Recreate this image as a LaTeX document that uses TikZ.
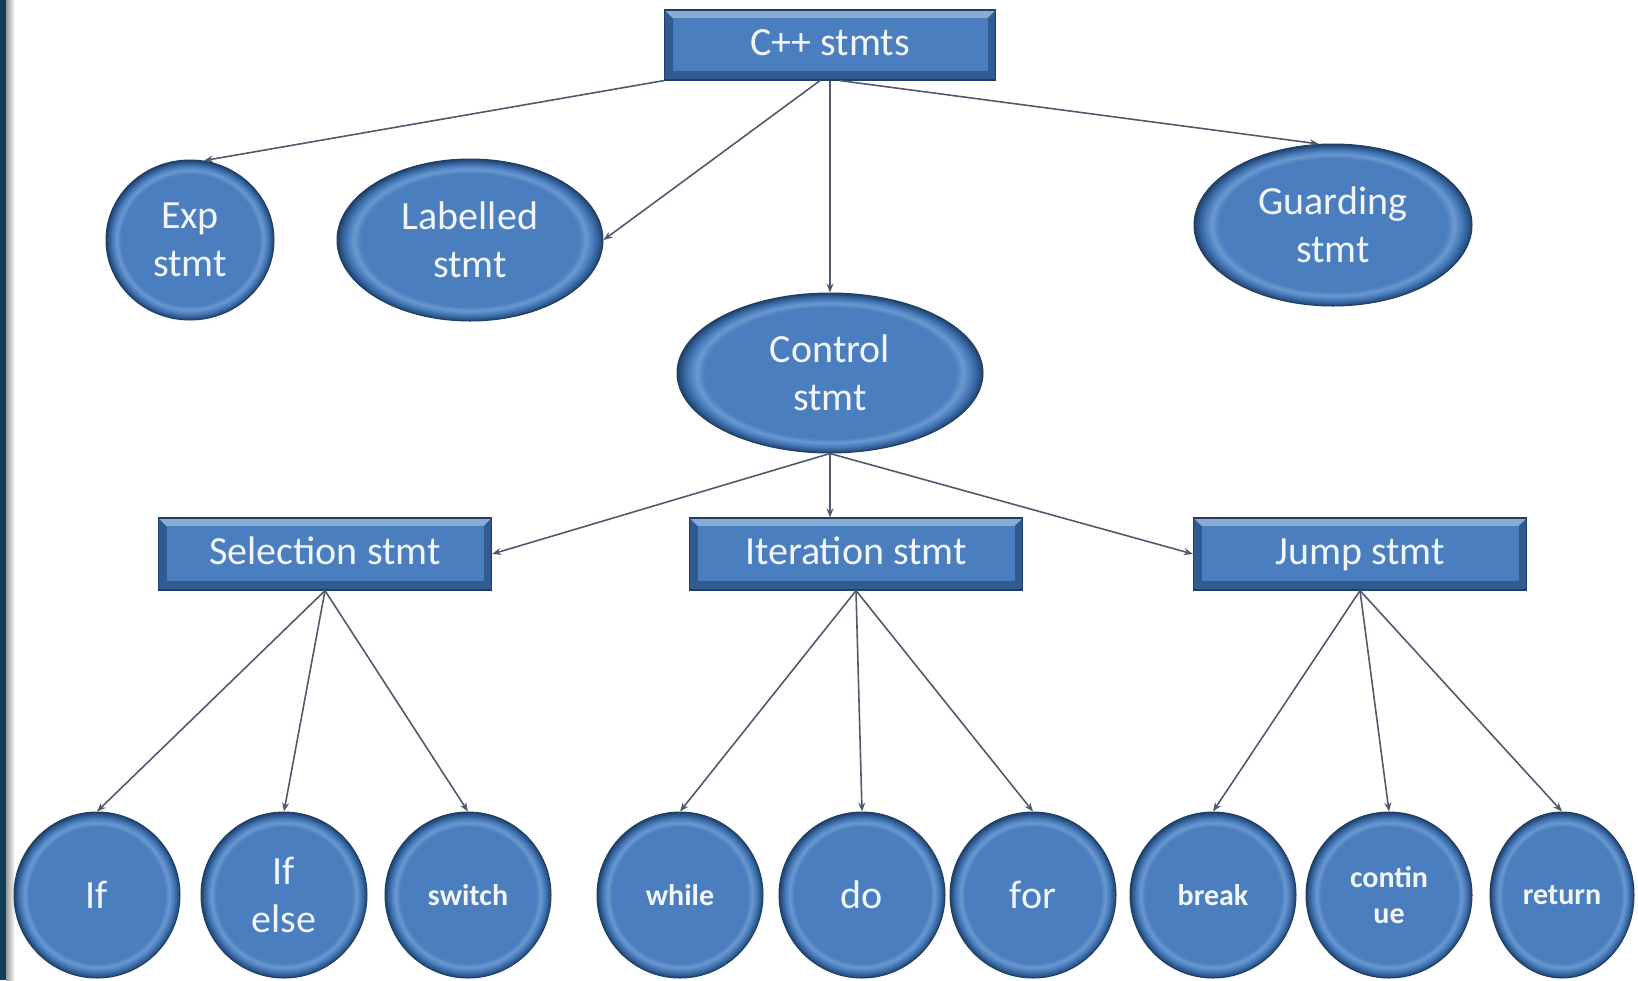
\documentclass[tikz,border=0pt]{standalone}
\usepackage{fontspec}
\setmainfont{Carlito}
\usetikzlibrary{arrows.meta,shapes.geometric,calc}

\definecolor{bfill}{HTML}{4A7EBE}
\definecolor{bdark}{HTML}{2F5B91}
\definecolor{bedge}{HTML}{1F3F66}
\definecolor{blight}{HTML}{6B98CF}
\definecolor{wire}{HTML}{4F5B6C}
\definecolor{txt}{HTML}{F2F6FB}
\definecolor{frameteal}{HTML}{0F4058}

% bevelled fill for the round shapes (the path box spans -25bp..25bp)
\pgfdeclareradialshading{bevel}{\pgfpoint{0bp}{0bp}}{%
  color(0bp)=(bfill); color(20.5bp)=(bfill); color(21.8bp)=(blight);
  color(23bp)=(bfill); color(24.2bp)=(bdark); color(25bp)=(bedge);
  color(50bp)=(bedge)}

\tikzset{
  wirearrow/.style={draw=wire, line width=0.8pt, -{Stealth[length=4.5pt,width=3.5pt]}},
  bigtext/.style={font=\fontsize{20}{24}\selectfont},
  smalltext/.style={font=\fontsize{15}{18}\selectfont\bfseries},
  blob/.style={ellipse, shading=bevel, draw=bedge, line width=0.5pt,
    inner sep=0pt, text=txt, align=center, bigtext},
  leaf/.style={blob, minimum width=83pt, minimum height=83pt},
  bar/.style={rectangle, fill=bdark, draw=bedge, line width=0.6pt,
    inner sep=0pt, text=txt, bigtext, text height=14pt, text depth=4pt,
    path picture={
      \fill[bfill!65!white]
        (path picture bounding box.north west) -- (path picture bounding box.north east)
        -- ([shift={(-4pt,-4pt)}]path picture bounding box.north east)
        -- ([shift={(4pt,-4pt)}]path picture bounding box.north west) -- cycle;
      \fill[bfill] ([shift={(4pt,-4pt)}]path picture bounding box.north west)
        rectangle ([shift={(-4pt,4.5pt)}]path picture bounding box.south east);
    }},
}

\begin{document}
\begin{tikzpicture}[x=0.5pt, y=-0.5pt]
  \useasboundingbox (0,0) rectangle (1638,980);

  % left frame strip
  \fill[frameteal] (0,0) rectangle (6,980);
  \shade[left color=black!40, right color=white] (6,0) rectangle (15,980);

  % top level
  \node[bar, minimum width=165.5pt, minimum height=35pt] (cpp) at (830,45) {C++ stmts};

  % second level
  \node[blob, minimum width=84pt, minimum height=80pt] (exp) at (190,240) {Exp\\stmt};
  \node[blob, minimum width=133pt, minimum height=81pt] (lab) at (470,240) {Labelled\\stmt};
  \node[blob, minimum width=139pt, minimum height=81pt] (guard) at (1333,225) {Guarding\\stmt};
  \node[blob, minimum width=153pt, minimum height=80pt] (ctrl) at (830,373) {Control\\stmt};

  % third level
  \node[bar, minimum width=166.5pt, minimum height=36pt] (sel) at (325,554) {Selection stmt};
  \node[bar, minimum width=166.5pt, minimum height=36pt] (iter) at (856,554) {Iteration stmt};
  \node[bar, minimum width=166.5pt, minimum height=36pt] (jump) at (1360,554) {Jump stmt};

  % leaves
  \node[leaf] (if) at (97,895) {If};
  \node[leaf] (ifelse) at (284,895) {If\\else};
  \node[leaf, smalltext] (switch) at (468,895) {switch};
  \node[leaf, smalltext] (while) at (680,895) {while};
  \node[leaf] (do) at (862,895) {do};
  \node[leaf] (for) at (1033,895) {for};
  \node[leaf, smalltext] (break) at (1213,895) {break};
  \node[leaf, smalltext] (cont) at (1389,895) {contin\\ue};
  \node[leaf, smalltext, minimum width=72pt] (ret) at (1562,895) {return};

  % connectors
  \draw[wirearrow] (cpp.south west) -- (exp.80);
  \draw[wirearrow] ($(cpp.south)+(-10,0)$) -- (lab.east);
  \draw[wirearrow] (cpp.south) -- (ctrl.north);
  \draw[wirearrow] ($(cpp.south)+(10,0)$) -- (guard.100);

  \draw[wirearrow] (ctrl.south) -- (sel.east);
  \draw[wirearrow] (ctrl.south) -- (ctrl.south |- iter.north);
  \draw[wirearrow] (ctrl.south) -- (jump.west);

  \foreach \leafnode in {if, ifelse, switch}
    \draw[wirearrow] (sel.south) -- (\leafnode.north);
  \foreach \leafnode in {while, do, for}
    \draw[wirearrow] (iter.south) -- (\leafnode.north);
  \foreach \leafnode in {break, cont, ret}
    \draw[wirearrow] (jump.south) -- (\leafnode.north);
\end{tikzpicture}
\end{document}
